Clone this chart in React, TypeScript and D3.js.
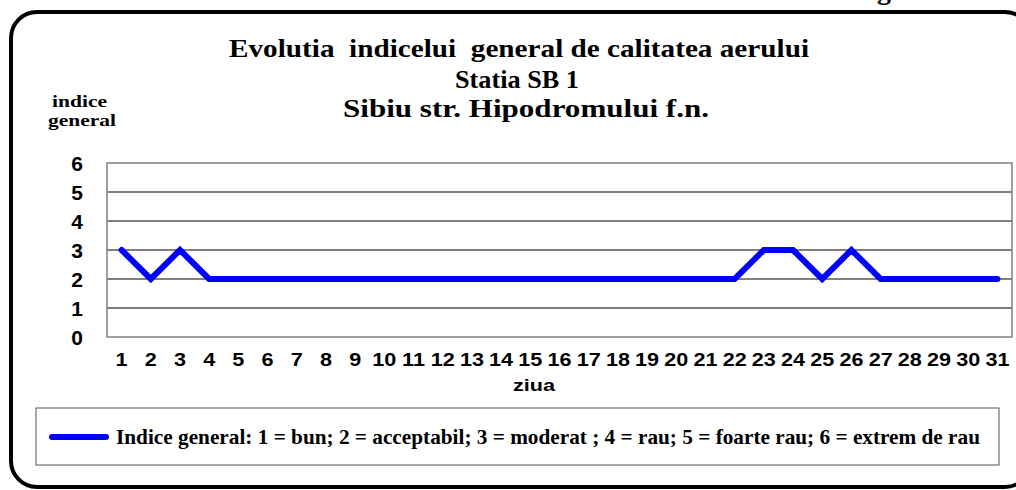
import React from "react";
import * as d3 from "d3";

const days: string[] = Array.from({ length: 31 }, (_, i) => String(i + 1));
const values: number[] = [3, 2, 3, 2, 2, 2, 2, 2, 2, 2, 2, 2, 2, 2, 2, 2, 2, 2, 2, 2, 2, 2, 3, 3, 2, 3, 2, 2, 2, 2, 2];
const yTicks: number[] = [0, 1, 2, 3, 4, 5, 6];
const titleLines: string[] = [
  "Evolutia  indicelui  general de calitatea aerului",
  "Statia SB 1",
  "Sibiu str. Hipodromului f.n.",
];
const legendLabel = "Indice general: 1 = bun; 2 = acceptabil; 3 = moderat ; 4 = rau; 5 = foarte rau; 6 = extrem de rau";

// layout of title lines: [startX, textLength, baseline]
const titleLayout: [number, number, number][] = [
  [229, 580, 57],
  [455, 124, 88],
  [343, 366, 117],
];

export default function App() {
  const W = 1016, H = 490;
  const plot = { left: 107, right: 1012, top: 163, bottom: 337 };
  const x = d3.scaleBand<string>().domain(days).range([plot.left, plot.right]);
  const y = d3.scaleLinear().domain([0, 6]).range([plot.bottom, plot.top]);
  const cx = (d: string) => (x(d) as number) + x.bandwidth() / 2;
  const line = d3
    .line<number>()
    .x((_, i) => cx(days[i]))
    .y((d) => y(d));
  const serif = "'Liberation Serif', 'Times New Roman', serif";
  const sans = "'Liberation Sans', Arial, sans-serif";

  return (
    <svg width={W} height={H} style={{ position: "absolute", left: 0, top: 0, background: "#fff" }}>
      <text x={877} y={-1} fontFamily={serif} fontWeight="bold" fontSize={28} fill="#000">g</text>
      <rect x={11} y={12} width={1020} height={475} rx={26} ry={26} fill="none" stroke="#000" strokeWidth={4} />
      {titleLines.map((t, i) => (
        <text
          key={i}
          x={titleLayout[i][0]}
          y={titleLayout[i][2]}
          textLength={titleLayout[i][1]}
          lengthAdjust="spacingAndGlyphs"
          fontFamily={serif}
          fontWeight="bold"
          fontSize={25}
          fill="#000"
          style={{ whiteSpace: "pre" }}
        >
          {t}
        </text>
      ))}
      <text x={52} y={107} textLength={55} lengthAdjust="spacingAndGlyphs" fontFamily={serif} fontWeight="bold" fontSize={17}>indice</text>
      <text x={48} y={126} textLength={68} lengthAdjust="spacingAndGlyphs" fontFamily={serif} fontWeight="bold" fontSize={17}>general</text>

      {yTicks.filter((t) => t > 0 && t < 6).map((t) => (
        <line key={t} x1={plot.left} x2={plot.right} y1={y(t)} y2={y(t)} stroke="#000" strokeWidth={1} />
      ))}
      <rect x={plot.left} y={plot.top} width={plot.right - plot.left} height={plot.bottom - plot.top} fill="none" stroke="#808080" strokeWidth={1.5} />
      {yTicks.map((t) => (
        <text key={t} x={77} y={y(t) + 8} textAnchor="middle" fontFamily={sans} fontWeight="bold" fontSize={21}>
          {t}
        </text>
      ))}
      {days.map((d) => (
        <text
          key={d}
          transform={`translate(${cx(d)},366) scale(1.2,1)`}
          textAnchor="middle"
          fontFamily={sans}
          fontWeight="bold"
          fontSize={18}
        >
          {d}
        </text>
      ))}
      <text transform="translate(534,391) scale(1.27,1)" textAnchor="middle" fontFamily={sans} fontWeight="bold" fontSize={17}>ziua</text>

      <path d={line(values) || ""} fill="none" stroke="#0000ff" strokeWidth={6} strokeLinejoin="miter" strokeLinecap="round" />

      <rect x={36} y={408} width={963} height={57} fill="#fff" stroke="#555" strokeWidth={1} />
      <line x1={52} x2={106} y1={437} y2={437} stroke="#0000ff" strokeWidth={6} strokeLinecap="round" />
      <text x={116} y={444} textLength={864} lengthAdjust="spacingAndGlyphs" fontFamily={serif} fontWeight="bold" fontSize={21}>{legendLabel}</text>
    </svg>
  );
}
